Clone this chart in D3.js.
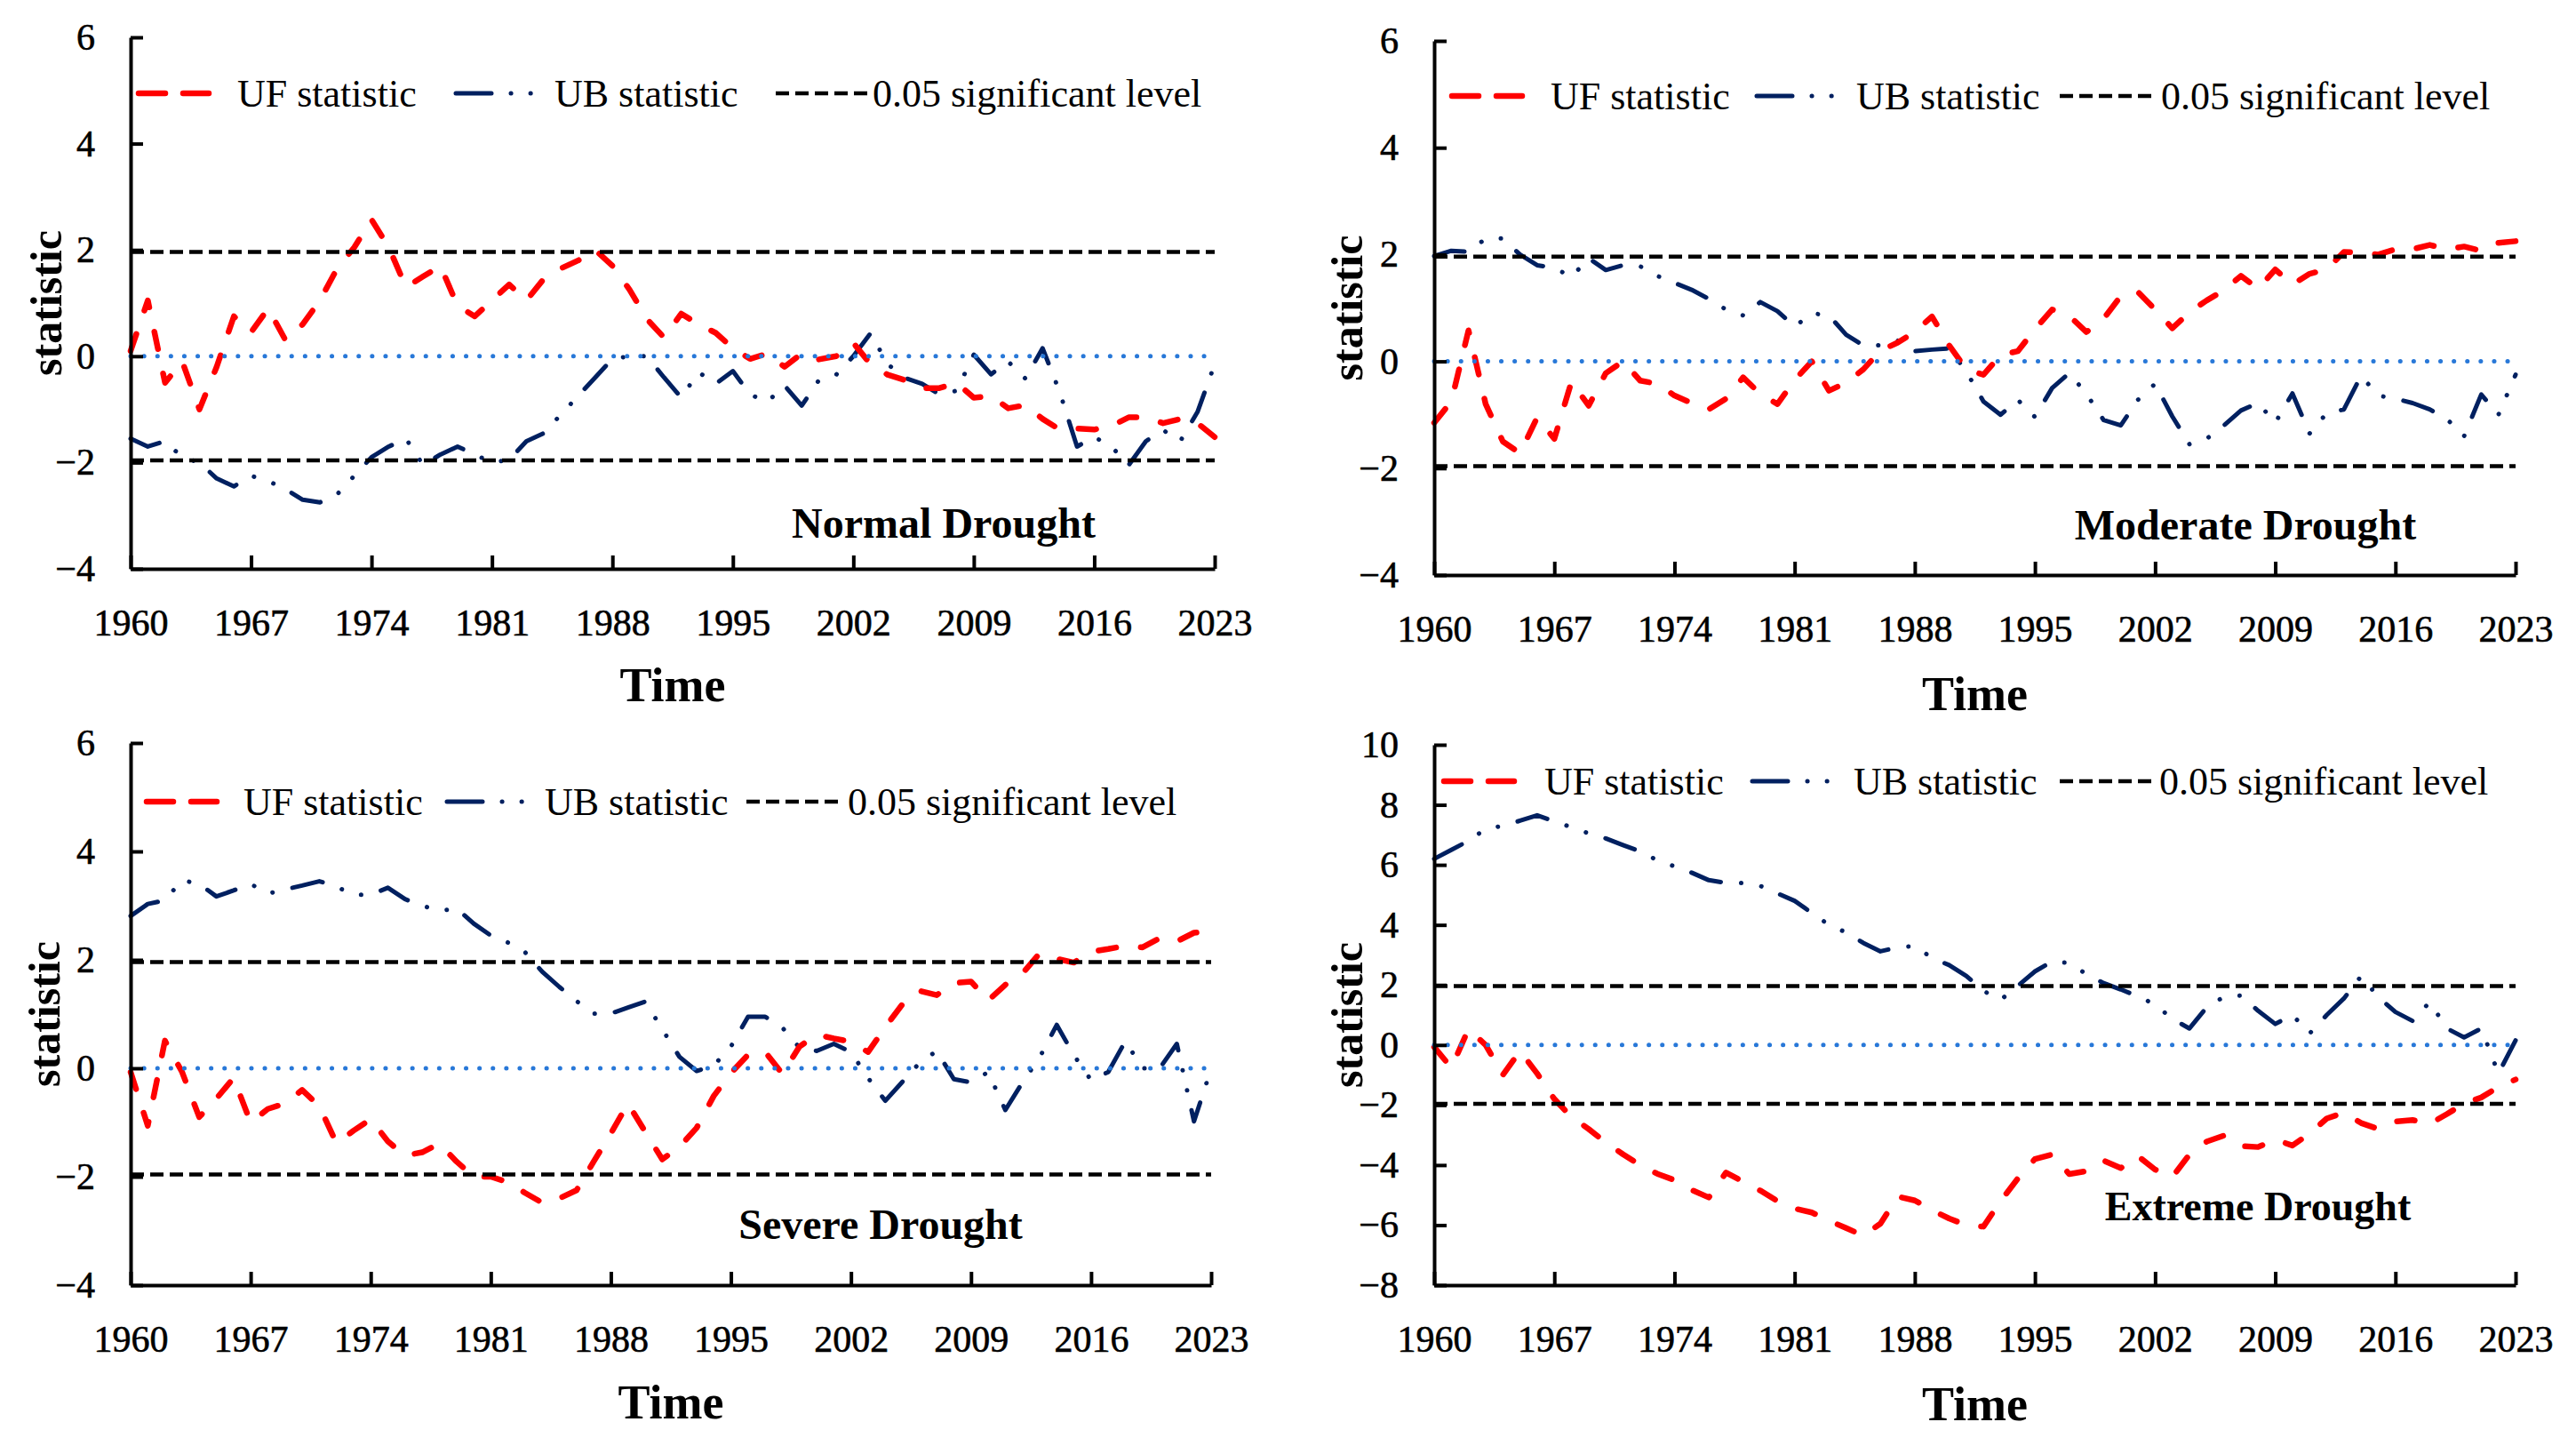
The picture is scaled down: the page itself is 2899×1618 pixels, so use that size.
<!DOCTYPE html>
<html>
<head>
<meta charset="utf-8">
<script src="https://cdn.jsdelivr.net/npm/d3@7"></script>
<style>
body{margin:0;background:#fff;}
svg{display:block;font-family:"Liberation Serif","Times New Roman",serif;}
</style>
</head>
<body>
<div id="chart"></div>
<script>
var startYear = 1960;
var xTicks = [1960, 1967, 1974, 1981, 1988, 1995, 2002, 2009, 2016, 2023];
var yTicksSmall = [-4, -2, 0, 2, 4, 6];
var yTicksLarge = [-8, -6, -4, -2, 0, 2, 4, 6, 8, 10];
var sigLevel = 1.96;
var legendNames = ["UF statistic", "UB statistic", "0.05 significant level"];
var panelNames = ["Normal Drought", "Moderate Drought", "Severe Drought", "Extreme Drought"];

// 1960 ... 2023, one value per year
var ufNormal = [0.1, 1.05, -0.5, -0.1, -1.0, -0.2, 0.75, 0.45,
  0.9, 0.3, 0.6, 1.05, 1.65, 2.05, 2.57, 2.05,
  1.3, 1.5, 1.7, 0.95, 0.75, 1.05, 1.35, 1.05,
  1.45, 1.65, 1.8, 2.0, 1.7, 1.25, 0.7, 0.35,
  0.8, 0.6, 0.44, 0.15, -0.05, 0.05, -0.2, 0.05,
  -0.06, 0.0, 0.25, -0.15, -0.35, -0.45, -0.6, -0.6,
  -0.5, -0.78, -0.75, -0.98, -0.92, -1.18, -1.38, -1.36,
  -1.38, -1.31, -1.15, -1.15, -1.26, -1.18, -1.26, -1.52];
var ubNormal = [-1.55, -1.7, -1.6, -1.9, -2.0, -2.3, -2.45, -2.25,
  -2.35, -2.5, -2.7, -2.75, -2.6, -2.25, -1.9, -1.7,
  -1.55, -2.05, -1.85, -1.7, -1.85, -2.0, -1.95, -1.6,
  -1.45, -1.1, -0.75, -0.4, -0.05, 0.0, 0.0, -0.4,
  -0.78, -0.3, -0.52, -0.28, -0.72, -0.86, -0.55, -0.93,
  -0.45, -0.35, 0.0, 0.43, -0.15, -0.41, -0.52, -0.72,
  -0.65, 0.03, -0.34, -0.1, -0.42, 0.15, -0.68, -1.7,
  -1.52, -1.7, -2.05, -1.6, -1.39, -1.6, -1.05, -0.15];

var ufModerate = [-1.15, -0.75, 0.58, -0.8, -1.5, -1.72, -1.05, -1.45,
  -0.38, -0.83, -0.22, 0.0, -0.36, -0.42, -0.64, -0.78,
  -0.9, -0.7, -0.3, -0.61, -0.8, -0.35, 0.0, -0.55,
  -0.4, -0.15, 0.2, 0.35, 0.55, 0.84, 0.3, -0.15,
  -0.25, 0.12, 0.19, 0.6, 0.97, 0.85, 0.55, 0.8,
  1.22, 1.3, 0.97, 0.62, 0.92, 1.14, 1.33, 1.6,
  1.36, 1.72, 1.44, 1.64, 1.72, 2.05, 2.03, 2.0,
  2.1, 2.1, 2.18, 2.1, 2.15, 2.07, 2.22, 2.25];
var ubModerate = [1.97, 2.07, 2.05, 2.3, 2.3, 2.0, 1.8, 1.75,
  1.58, 1.93, 1.71, 1.8, 1.78, 1.6, 1.47, 1.34,
  1.17, 0.97, 0.86, 1.11, 0.94, 0.65, 0.9, 0.86,
  0.5, 0.3, 0.3, 0.39, 0.19, 0.22, 0.24, -0.19,
  -0.75, -1.0, -0.72, -1.04, -0.5, -0.22, -0.61, -1.1,
  -1.2, -0.72, -0.42, -1.03, -1.55, -1.45, -1.2, -0.92,
  -0.78, -1.15, -0.6, -1.35, -0.97, -0.9, -0.27, -0.64,
  -0.7, -0.78, -0.9, -1.08, -1.4, -0.62, -1.0, -0.25];

var ufSevere = [-0.07, -1.06, 0.51, -0.07, -0.9, -0.56, -0.18, -1.0,
  -0.75, -0.65, -0.4, -0.7, -1.38, -1.15, -0.94, -1.35,
  -1.61, -1.55, -1.39, -1.72, -2.0, -2.0, -2.1, -2.3,
  -2.48, -2.4, -2.25, -1.72, -1.2, -0.65, -1.17, -1.68,
  -1.45, -1.1, -0.51, -0.09, 0.25, 0.3, -0.1, 0.4,
  0.62, 0.55, 0.49, 0.3, 0.76, 1.18, 1.43, 1.35,
  1.57, 1.6, 1.25, 1.54, 1.75, 2.12, 2.02, 1.95,
  2.15, 2.2, 2.26, 2.23, 2.4, 2.34, 2.5, 2.53];
var ubSevere = [2.81, 3.03, 3.1, 3.47, 3.4, 3.17, 3.28, 3.4,
  3.22, 3.3, 3.37, 3.45, 3.35, 3.2, 3.2, 3.33,
  3.12, 3.0, 2.9, 2.95, 2.67, 2.45, 2.32, 2.14,
  1.78, 1.5, 1.24, 1.01, 1.01, 1.12, 1.23, 0.72,
  0.21, -0.05, 0.05, 0.4, 0.95, 0.95, 0.75, 0.38,
  0.32, 0.45, 0.3, -0.18, -0.6, -0.25, 0.1, 0.32,
  -0.2, -0.26, -0.07, -0.77, -0.26, 0.2, 0.8, 0.24,
  -0.22, -0.07, 0.5, 0.0, 0.0, 0.45, -0.98, -0.01];

var ufExtreme = [-0.07, -0.76, 0.53, 0.0, -1.0, -0.2, -0.95, -1.8,
  -2.4, -2.8, -3.25, -3.64, -4.0, -4.29, -4.5, -4.83,
  -5.08, -4.25, -4.55, -4.85, -5.2, -5.45, -5.58, -5.85,
  -6.1, -6.35, -5.95, -5.05, -5.18, -5.5, -5.78, -6.0,
  -6.05, -5.2, -4.45, -3.8, -3.65, -4.3, -4.2, -3.85,
  -4.1, -3.7, -4.15, -4.4, -3.65, -3.22, -3.02, -3.37,
  -3.4, -3.15, -3.35, -2.95, -2.45, -2.25, -2.6, -2.8,
  -2.55, -2.5, -2.63, -2.3, -1.95, -1.75, -1.4, -1.15];
var ubExtreme = [6.2, 6.5, 6.8, 7.2, 7.3, 7.47, 7.65, 7.45,
  7.25, 7.05, 6.88, 6.66, 6.45, 6.15, 5.95, 5.74,
  5.49, 5.4, 5.4, 5.3, 5.05, 4.8, 4.4, 4.0,
  3.75, 3.4, 3.12, 3.25, 3.3, 2.9, 2.66, 2.3,
  1.8, 1.5, 1.97, 2.45, 2.78, 2.73, 2.36, 2.06,
  1.85, 1.62, 1.35, 0.87, 0.55, 1.25, 1.6, 1.65,
  1.14, 0.7, 1.0, 0.38, 1.0, 1.55, 2.29, 1.6,
  1.1, 0.8, 1.43, 0.55, 0.25, 0.55, -0.95, 0.15];

var width = 2899, height = 1618;
var red = "#ff0000", navy = "#002060", zeroBlue = "#2878d8";

var svg = d3.select("#chart").append("svg")
  .attr("width", width)
  .attr("height", height);

svg.append("rect").attr("width", width).attr("height", height).attr("fill", "#fff");

// panel boxes, legend and label spots
var panels = [
  {uf: ufNormal, ub: ubNormal, name: panelNames[0], yDomain: [-4, 6], yTicks: yTicksSmall,
   left: 147, right: 1367, top: 42, bottom: 640,
   legY: 105, legX: [153, 267, 511, 624, 873, 982],
   titleX: 1062, titleY: 605, titleSize: 48, timeY: 789, statX: 52},
  {uf: ufModerate, ub: ubModerate, name: panelNames[1], yDomain: [-4, 6], yTicks: yTicksSmall,
   left: 1614, right: 2831, top: 46, bottom: 647,
   legY: 108, legX: [1631, 1745, 1975, 2089, 2318, 2432],
   titleX: 2527, titleY: 607, titleSize: 48, timeY: 799, statX: 1516},
  {uf: ufSevere, ub: ubSevere, name: panelNames[2], yDomain: [-4, 6], yTicks: yTicksSmall,
   left: 147, right: 1363, top: 836, bottom: 1446,
   legY: 902, legX: [162, 274, 501, 613, 840, 954],
   titleX: 991, titleY: 1394, titleSize: 48, timeY: 1596, statX: 50},
  {uf: ufExtreme, ub: ubExtreme, name: panelNames[3], yDomain: [-8, 10], yTicks: yTicksLarge,
   left: 1614, right: 2831, top: 838, bottom: 1446,
   legY: 879, legX: [1622, 1738, 1970, 2086, 2318, 2430],
   titleX: 2541, titleY: 1373, titleSize: 46, timeY: 1598, statX: 1516}
];

function minusFmt(d) {
  return d < 0 ? "\u2212" + Math.abs(d) : String(d);
}

function drawPanel(p) {
  var endYear = startYear + p.uf.length - 1;
  var x = d3.scaleLinear().domain([startYear, endYear]).range([p.left, p.right]);
  var y = d3.scaleLinear().domain(p.yDomain).range([p.bottom, p.top]);
  var g = svg.append("g");

  var line = d3.line()
    .x(function (d, i) { return x(startYear + i); })
    .y(function (d) { return y(d); });

  g.append("path").datum(p.ub)
    .attr("d", line)
    .attr("fill", "none")
    .attr("stroke", navy)
    .attr("stroke-width", 5)
    .attr("stroke-linecap", "round")
    .attr("stroke-linejoin", "round")
    .attr("stroke-dasharray", "35,23,0.1,23,0.1,23");

  g.append("path").datum(p.uf)
    .attr("d", line)
    .attr("fill", "none")
    .attr("stroke", red)
    .attr("stroke-width", 6.5)
    .attr("stroke-linecap", "round")
    .attr("stroke-linejoin", "round")
    .attr("stroke-dasharray", "20,28");

  [sigLevel, -sigLevel].forEach(function (v) {
    g.append("line")
      .attr("x1", x(startYear)).attr("x2", x(endYear))
      .attr("y1", y(v)).attr("y2", y(v))
      .attr("stroke", "#000")
      .attr("stroke-width", 4.5)
      .attr("stroke-dasharray", "15,7");
  });

  g.append("line")
    .attr("x1", x(startYear)).attr("x2", x(endYear))
    .attr("y1", y(0)).attr("y2", y(0))
    .attr("stroke", zeroBlue)
    .attr("stroke-width", 5)
    .attr("stroke-linecap", "round")
    .attr("stroke-dasharray", "0.1,15");

  // axes
  var xAxis = d3.axisBottom(x)
    .tickValues(xTicks)
    .tickFormat(d3.format("d"))
    .tickSize(-15)
    .tickSizeOuter(0)
    .tickPadding(45);
  var gx = g.append("g")
    .attr("transform", "translate(0," + p.bottom + ")")
    .call(xAxis);

  var yAxis = d3.axisLeft(y)
    .tickValues(p.yTicks)
    .tickFormat(minusFmt)
    .tickSize(-14)
    .tickSizeOuter(0)
    .tickPadding(40);
  var gy = g.append("g")
    .attr("transform", "translate(" + p.left + ",0)")
    .call(yAxis);

  [gx, gy].forEach(function (a) {
    a.select(".domain").attr("stroke", "#000").attr("stroke-width", 4);
    a.selectAll(".tick line").attr("stroke", "#000").attr("stroke-width", 4);
    a.selectAll(".tick text")
      .attr("fill", "#000")
      .attr("stroke", "#000")
      .attr("stroke-width", 0.6)
      .style("font-family", "'Liberation Serif','Times New Roman',serif")
      .style("font-size", "42px");
  });

  // axis titles
  g.append("text")
    .attr("x", (p.left + p.right) / 2)
    .attr("y", p.timeY)
    .attr("text-anchor", "middle")
    .style("font-size", "54px")
    .style("font-weight", "bold")
    .text("Time");

  g.append("text")
    .attr("transform", "translate(" + p.statX + "," + ((p.top + p.bottom) / 2) + ") rotate(-90)")
    .attr("text-anchor", "middle")
    .attr("dy", "0.33em")
    .style("font-size", "50px")
    .style("font-weight", "bold")
    .text("statistic");

  g.append("text")
    .attr("x", p.titleX)
    .attr("y", p.titleY)
    .attr("text-anchor", "middle")
    .style("font-size", p.titleSize + "px")
    .style("font-weight", "bold")
    .text(p.name);

  // legend
  var lx = p.legX, ly = p.legY;
  g.append("line")
    .attr("x1", lx[0] + 3).attr("x2", lx[0] + 82).attr("y1", ly).attr("y2", ly)
    .attr("stroke", red).attr("stroke-width", 6.5)
    .attr("stroke-linecap", "round")
    .attr("stroke-dasharray", "30,20");
  g.append("line")
    .attr("x1", lx[2] + 2).attr("x2", lx[2] + 92).attr("y1", ly).attr("y2", ly)
    .attr("stroke", navy).attr("stroke-width", 5)
    .attr("stroke-linecap", "round")
    .attr("stroke-dasharray", "40,22,0.1,22,0.1,40");
  g.append("line")
    .attr("x1", lx[4]).attr("x2", lx[4] + 108).attr("y1", ly).attr("y2", ly)
    .attr("stroke", "#000").attr("stroke-width", 4.5)
    .attr("stroke-dasharray", "15,7");

  [lx[1], lx[3], lx[5]].forEach(function (tx, i) {
    g.append("text")
      .attr("x", tx)
      .attr("y", ly)
      .attr("dy", "0.33em")
      .style("font-size", "44px")
      .text(legendNames[i]);
  });
}

panels.forEach(drawPanel);
</script>
</body>
</html>
